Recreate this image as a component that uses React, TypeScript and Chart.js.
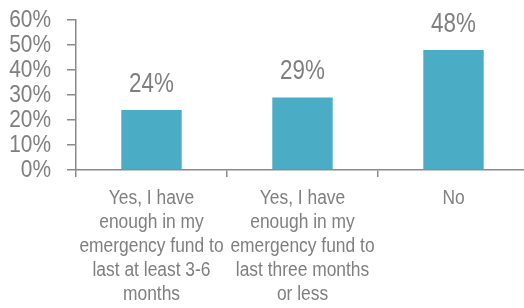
import React, { useEffect, useRef } from "react";
import { Chart, registerables } from "chart.js";

Chart.register(...registerables);

const categories: string[][] = [
  ["Yes, I have", "enough in my", "emergency fund to", "last at least 3-6", "months"],
  ["Yes, I have", "enough in my", "emergency fund to", "last three months", "or less"],
  ["No"],
];
const values: number[] = [24, 29, 48];
const yTicks: number[] = [0, 10, 20, 30, 40, 50, 60];

const FONT = "'Liberation Sans', Arial, sans-serif";
const TEXT = "#7f7f7f";
const AXIS = "#8a8a8a";
const BAR = "#4bacc6";
const CLEAR = "rgba(0,0,0,0)";

function drawNarrow(ctx: any, text: string, x: number, y: number, size: number, sx: number, align: string) {
  ctx.save();
  ctx.font = `${size}px ${FONT}`;
  ctx.fillStyle = TEXT;
  ctx.textAlign = align;
  ctx.textBaseline = "alphabetic";
  ctx.translate(x, y);
  ctx.scale(sx, 1);
  ctx.fillText(text, 0, 0);
  ctx.restore();
}

const narrowText = {
  id: "narrowText",
  afterDatasetsDraw(chart: any) {
    const ctx = chart.ctx;
    const meta = chart.getDatasetMeta(0);
    const ys = chart.scales.y;
    const xs = chart.scales.x;
    // value labels
    meta.data.forEach((bar: any, i: number) => {
      drawNarrow(ctx, `${values[i]}%`, bar.x, bar.y - 18.3, 28, 0.8, "center");
    });
    // y tick labels
    const right = chart.chartArea.left - 9 - 16;
    yTicks.forEach((v) => {
      const py = ys.getPixelForValue(v);
      drawNarrow(ctx, `${v}%`, right, py + 7.1, 24, 0.87, "right");
    });
    // x tick labels
    const bottom = chart.chartArea.bottom;
    categories.forEach((lines, i) => {
      const px = xs.getPixelForValue(i);
      lines.forEach((line, j) => {
        drawNarrow(ctx, line, px, bottom + 34.3 + 24 * j, 20, 0.87, "center");
      });
    });
  },
};

export default function App() {
  const ref = useRef<HTMLCanvasElement | null>(null);
  useEffect(() => {
    if (!ref.current) return;
    const chart = new Chart(ref.current, {
      type: "bar",
      data: {
        labels: categories,
        datasets: [
          {
            data: values,
            backgroundColor: BAR,
            borderWidth: 0,
            barPercentage: 0.4,
            categoryPercentage: 1,
          },
        ],
      },
      options: {
        animation: false,
        responsive: false,
        maintainAspectRatio: false,
        layout: { padding: { left: 0, top: 20, right: 1, bottom: 0 } },
        plugins: { legend: { display: false }, tooltip: { enabled: false } },
        scales: {
          x: {
            afterFit: (axis: any) => {
              axis.height = 138;
              axis.paddingLeft = 0;
              axis.paddingRight = 0;
            },
            grid: {
              offset: true,
              drawOnChartArea: false,
              drawTicks: true,
              tickLength: 7,
              color: AXIS,
              lineWidth: 1.5,
            },
            border: { display: true, color: AXIS, width: 1.5 },
            ticks: {
              color: CLEAR,
              font: { family: FONT, size: 1, lineHeight: 1 },
              padding: 0,
              maxRotation: 0,
              autoSkip: false,
            },
          },
          y: {
            min: 0,
            max: 60,
            afterBuildTicks: (axis: any) => {
              axis.ticks = yTicks.map((v) => ({ value: v }));
            },
            afterFit: (axis: any) => {
              axis.width = 76;
              axis.paddingTop = 0;
              axis.paddingBottom = 0;
            },
            grid: {
              drawOnChartArea: false,
              drawTicks: true,
              tickLength: 9,
              color: AXIS,
              lineWidth: 1.5,
            },
            border: { display: true, color: AXIS, width: 1.5 },
            ticks: {
              color: CLEAR,
              font: { family: FONT, size: 1, lineHeight: 1 },
              padding: 0,
              autoSkip: false,
              callback: (v: any) => `${v}%`,
            },
          },
        },
      },
      plugins: [narrowText],
    });
    return () => chart.destroy();
  }, []);
  return (
    <div style={{ position: "fixed", left: 0, top: 0, width: 530, height: 308 }}>
      <canvas ref={ref} width={530} height={308} style={{ width: 530, height: 308 }} />
    </div>
  );
}
